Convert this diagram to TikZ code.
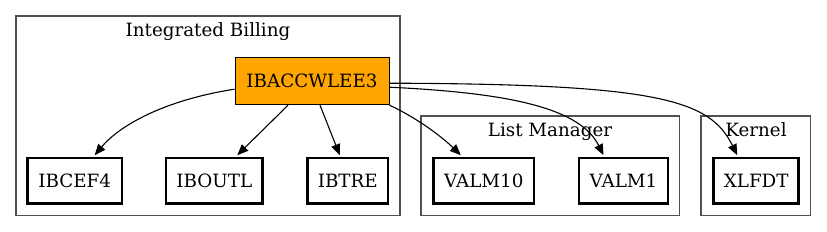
\documentclass[tikz,border=0pt]{standalone}
\usepackage{fontspec}
\setmainfont{DejaVu Serif}
\usetikzlibrary{arrows.meta,calc}
\definecolor{ibfill}{HTML}{FFA500}
\definecolor{clgray}{HTML}{505050}
\begin{document}
\begin{tikzpicture}[x=1pt,y=-1pt,
  font=\fontsize{18.3}{20}\selectfont,
  cluster/.style={draw=clgray,line width=1.3pt},
  cltitle/.style={anchor=base,inner sep=0pt},
  modbox/.style={draw=black,line width=2.7pt,minimum height=45.5pt,inner sep=0pt,fill=white},
  mainbox/.style={draw=black,line width=1pt,fill=ibfill,minimum width=154pt,minimum height=47pt,inner sep=0pt},
  edge/.style={draw=black,line width=1.1pt,-{Triangle[length=11pt,width=9pt]}}]
\useasboundingbox (0,0) rectangle (827,232);
% clusters
\draw[cluster] (16,16) rectangle (400,215.7);
\node[cltitle] (tib) at (208,36.4) {Integrated Billing};
\draw[cluster] (421,116) rectangle (679.3,215.7);
\node[cltitle] (tlm) at (550,136.7) {List Manager};
\draw[cluster] (701,116) rectangle (810.7,215.7);
\node[cltitle] (tk) at (756,136.7) {Kernel};
% nodes
\node[mainbox] (ib) at (312,81.2) {IBACCWLEE3};
\node[modbox,minimum width=94.5pt] (cef) at (74.7,180.8) {IBCEF4};
\node[modbox,minimum width=96.5pt] (outl) at (214.3,180.8) {IBOUTL};
\node[modbox,minimum width=80.5pt] (tre) at (347.8,180.8) {IBTRE};
\node[modbox,minimum width=100.5pt] (v10) at (483.8,180.8) {VALM10};
\node[modbox,minimum width=89pt] (v1) at (623.5,180.8) {VALM1};
\node[modbox,minimum width=85pt] (xl) at (756.2,180.8) {XLFDT};
% edges
\draw[edge] ($(ib.west)+(0,8)$) .. controls (165,100) and (120,125) .. ($(cef.north)+(20,-1.5)$);
\draw[edge] ($(ib.south)+(-24,0)$) -- ($(outl.north)+(23,-1.5)$);
\draw[edge] ($(ib.south)+(8,0)$) -- ($(tre.north)+(-8,-1.5)$);
\draw[edge] (ib.south east) .. controls (415,117) and (440,135) .. ($(v10.north)+(-23,-1.5)$);
\draw[edge] ($(ib.east)+(0,6)$) .. controls (510,93) and (580,108) .. ($(v1.north)+(-20,-1.5)$);
\draw[edge] ($(ib.east)+(0,2)$) .. controls (660,84) and (710,100) .. ($(xl.north)+(-19,-1.5)$);
\end{tikzpicture}
\end{document}
